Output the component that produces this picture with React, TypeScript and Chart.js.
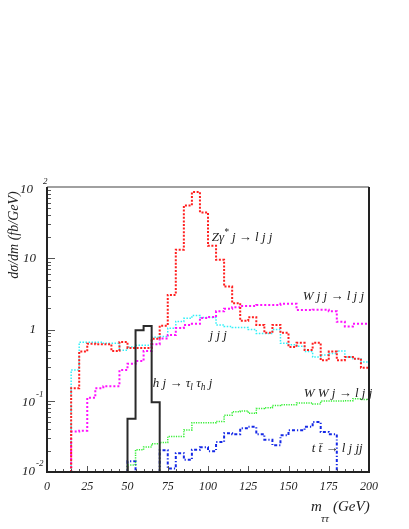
import React, { useEffect, useRef } from 'react';
import { Chart, registerables } from 'chart.js';

Chart.register(...registerables);

// ---- axis ranges / bins ----
const BIN = 5; // GeV
const X_MIN = 0;
const X_MAX = 200;
const Y_MIN = 0.01;
const Y_MAX = 100;
const FLOOR = 0.01;

// ---- tick labels ----
const X_TICK_LABELS = ['0', '25', '50', '75', '100', '125', '150', '175', '200'];
const Y_TICK_VALUES = [0.01, 0.1, 1, 10, 100];
const Y_TICK_BASE = ['10', '10', '1', '10', '10'];
const Y_TICK_EXP = ['-2', '-1', '', '', '2'];

// ---- series (dσ/dm, fb/GeV, one value per 5 GeV bin) ----
// Z/γ* j -> l j j (red)
const ZJ_START = 15;
const ZJ = [0.15, 0.49, 0.63, 0.62, 0.62, 0.5, 0.67, 0.55, 0.55, 0.55, 0.74, 1.13, 3.06, 13.2, 55, 85, 44, 15, 9.5, 4.0,
  2.34, 1.33, 1.48, 1.16, 0.9, 1.16, 0.9, 0.57, 0.65, 0.515, 0.65, 0.37, 0.49, 0.37, 0.41, 0.39, 0.29];
// j j j (cyan)
const JJJ_START = 15;
const JJJ = [0.27, 0.66, 0.66, 0.66, 0.64, 0.64, 0.51, 0.57, 0.6, 0.6, 0.78, 0.8, 1.04, 1.3, 1.44, 1.57, 1.47, 1.47, 1.16, 1.1,
  1.07, 1.07, 1.0, 0.88, 0.88, 1.0, 0.64, 0.61, 0.58, 0.49, 0.41, 0.44, 0.46, 0.5, 0.41, 0.39, 0.35];
// W j j -> l j j (magenta)
const WJJ_START = 15;
const WJJ = [0.037, 0.038, 0.11, 0.15, 0.16, 0.16, 0.27, 0.33, 0.36, 0.5, 0.62, 0.75, 0.84, 1.05, 1.16, 1.2, 1.45, 1.5, 1.8, 1.95,
  2.05, 2.14, 2.14, 2.2, 2.2, 2.2, 2.29, 2.29, 1.88, 1.88, 1.9, 1.9, 1.8, 1.28, 1.1, 1.2, 1.2];
// W W j -> l j j (green)
const WWJ_START = 50;
const WWJ = [0.0125, 0.0205, 0.0225, 0.025, 0.026, 0.0316, 0.0316, 0.039, 0.049, 0.049, 0.049, 0.051, 0.0625, 0.07, 0.072,
  0.067, 0.078, 0.08, 0.086, 0.088, 0.088, 0.093, 0.093, 0.09, 0.099, 0.099, 0.099, 0.1, 0.107, 0.104];
// t tbar -> l j jj (blue), two pieces
const TT_A_START = 50;
const TT_A = [0.0141];
const TT_B_START = 70;
const TT_B = [0.0202, 0.0112, 0.0184, 0.0148, 0.0205, 0.0223, 0.0196, 0.0263, 0.035, 0.034, 0.041, 0.043, 0.034, 0.0284,
  0.0237, 0.0327, 0.0385, 0.0385, 0.043, 0.0504, 0.0365, 0.034];
// h j -> τl τh j (black)
const HJ_START = 50;
const HJ = [0.056, 0.98, 1.12, 0.095];

type Pt = { x: number; y: number | null };

function hist(start: number, vals: number[], dropToFloor: boolean): Pt[] {
  const pts: Pt[] = [{ x: start, y: FLOOR }];
  vals.forEach((v, i) => pts.push({ x: start + i * BIN, y: v }));
  const end = start + vals.length * BIN;
  pts.push({ x: end, y: dropToFloor ? FLOOR : vals[vals.length - 1] });
  return pts;
}

const SERIF = "'Liberation Serif', 'Times New Roman', 'DejaVu Serif', serif";
const font = (s: number) => `italic ${s}px ${SERIF}`;
const TEXT = '#222';

type Part = { t: string; k?: 'sup' | 'sub' };

function drawRich(ctx: CanvasRenderingContext2D, x: number, y: number, parts: Part[], size: number) {
  let cx = x;
  ctx.textAlign = 'left';
  ctx.textBaseline = 'middle';
  for (const p of parts) {
    const s = p.k ? size * 0.72 : size;
    ctx.font = font(s);
    const dy = p.k === 'sup' ? -size * 0.42 : p.k === 'sub' ? size * 0.32 : 0;
    ctx.fillText(p.t, cx, y + dy);
    cx += ctx.measureText(p.t).width;
  }
}

// annotation anchors in data coordinates (left edge, vertical centre)
const NOTES: { x: number; y: number; parts: Part[] }[] = [
  { x: 102.3, y: 19.4, parts: [{ t: 'Zγ' }, { t: '*', k: 'sup' }, { t: ' j → l j j' }] },
  { x: 158.8, y: 2.87, parts: [{ t: 'W j j → l j j' }] },
  { x: 101, y: 0.81, parts: [{ t: 'j j j' }] },
  { x: 65.7, y: 0.177, parts: [{ t: 'h j → τ' }, { t: 'l', k: 'sub' }, { t: ' τ' }, { t: 'h', k: 'sub' }, { t: ' j' }] },
  { x: 159.4, y: 0.128, parts: [{ t: 'W W j → l j j' }] },
  { x: 164.4, y: 0.0215, parts: [{ t: 't t̄ → l j jj' }] },
];

const decor = {
  id: 'decor',
  afterDatasetsDraw(chart: any) {
    const { ctx, chartArea: a } = chart;
    const xs = chart.scales.x;
    const ys = chart.scales.y;
    ctx.save();
    // inner ticks
    ctx.strokeStyle = '#555';
    ctx.lineWidth = 1;
    ctx.beginPath();
    for (let v = X_MIN; v <= X_MAX; v += BIN) {
      const px = Math.round(xs.getPixelForValue(v)) + 0.5;
      const len = v % 25 === 0 ? 6 : 3;
      ctx.moveTo(px, a.bottom);
      ctx.lineTo(px, a.bottom - len);
    }
    for (let d = -2; d <= 2; d++) {
      for (let k = 1; k <= 9; k++) {
        const v = k * Math.pow(10, d);
        if (v > Y_MAX * 1.0001) break;
        const py = Math.round(ys.getPixelForValue(v)) + 0.5;
        const len = k === 1 ? 8 : 4;
        ctx.moveTo(a.left, py);
        ctx.lineTo(a.left + len, py);
      }
    }
    ctx.stroke();
    // frame
    ctx.lineWidth = 2;
    ctx.strokeStyle = '#a0a0a0';
    ctx.beginPath();
    ctx.moveTo(a.left, a.top);
    ctx.lineTo(a.right, a.top);
    ctx.stroke();
    ctx.strokeStyle = '#222';
    ctx.beginPath();
    ctx.moveTo(a.left, a.top);
    ctx.lineTo(a.left, a.bottom);
    ctx.lineTo(a.right, a.bottom);
    ctx.lineTo(a.right, a.top);
    ctx.stroke();
    ctx.restore();
  },
  afterDraw(chart: any) {
    const { ctx } = chart;
    const xs = chart.scales.x;
    const ys = chart.scales.y;
    ctx.save();
    ctx.fillStyle = TEXT;
    // x tick labels
    ctx.font = font(12);
    ctx.textAlign = 'center';
    ctx.textBaseline = 'middle';
    X_TICK_LABELS.forEach((l) => {
      ctx.fillText(l, xs.getPixelForValue(Number(l)), 487);
    });
    // y tick labels
    const baseRight = [35, 35, 36, 36, 33];
    const baseDy = [0, 2, 0, 0, 3];
    Y_TICK_VALUES.forEach((v, i) => {
      const py = ys.getPixelForValue(v);
      ctx.font = font(13);
      ctx.textAlign = 'right';
      ctx.textBaseline = 'middle';
      ctx.fillText(Y_TICK_BASE[i], baseRight[i], py + baseDy[i]);
      if (Y_TICK_EXP[i]) {
        ctx.font = font(9);
        ctx.textAlign = 'left';
        ctx.fillText(Y_TICK_EXP[i], i === 4 ? 43 : baseRight[i] + 1, py + baseDy[i] - 8);
      }
    });
    // y title
    ctx.save();
    ctx.translate(14, 235);
    ctx.rotate(-Math.PI / 2);
    ctx.font = font(14);
    ctx.textAlign = 'center';
    ctx.textBaseline = 'middle';
    ctx.fillText('dσ/dm (fb/GeV)', 0, 0);
    ctx.restore();
    // x title
    drawRich(ctx, 311, 507, [{ t: 'm' }], 15);
    ctx.font = font(11);
    ctx.fillText('ττ', 321, 519);
    drawRich(ctx, 333, 507, [{ t: '(GeV)' }], 15);
    // annotations
    NOTES.forEach((n) => {
      drawRich(ctx, xs.getPixelForValue(n.x), ys.getPixelForValue(n.y), n.parts, 13);
    });
    ctx.restore();
  },
};

export default function App() {
  const ref = useRef<HTMLCanvasElement>(null);
  useEffect(() => {
    const common = { pointRadius: 0, fill: false, tension: 0, stepped: 'before' as const, borderCapStyle: 'butt' as const };
    const chart = new Chart(ref.current!, {
      type: 'line',
      data: {
        datasets: [
          { label: 'hj', data: hist(HJ_START, HJ, true), borderColor: '#2a2a2a', borderWidth: 2, ...common },
          { label: 'Zj', data: hist(ZJ_START, ZJ, false), borderColor: '#ff2020', borderWidth: 2, borderDash: [2, 1.6], ...common },
          { label: 'Wjj', data: hist(WJJ_START, WJJ, false), borderColor: '#ff10ff', borderWidth: 2, borderDash: [2, 2], ...common },
          { label: 'jjj', data: hist(JJJ_START, JJJ, false), borderColor: '#30f0f8', borderWidth: 1.5, borderDash: [1.5, 1.5], ...common },
          { label: 'WWj', data: hist(WWJ_START, WWJ, false), borderColor: '#33ee33', borderWidth: 1.5, borderDash: [1.2, 1.2], ...common },
          {
            label: 'tt',
            data: [...hist(TT_A_START, TT_A, true), { x: 60, y: null }, ...hist(TT_B_START, TT_B, true)],
            borderColor: '#1428e6', borderWidth: 2, borderDash: [3, 2, 1.2, 2], spanGaps: false, ...common,
          },
        ] as any,
      },
      options: {
        animation: false,
        responsive: false,
        devicePixelRatio: 1,
        layout: { padding: { left: 47, top: 187, right: 40, bottom: 57 } },
        plugins: { legend: { display: false }, tooltip: { enabled: false } },
        events: [],
        scales: {
          x: { type: 'linear', min: X_MIN, max: X_MAX, display: false },
          y: { type: 'logarithmic', min: Y_MIN, max: Y_MAX, display: false },
        },
      },
      plugins: [decor],
    } as any);
    return () => chart.destroy();
  }, []);
  return (
    <div style={{ position: 'absolute', left: 0, top: 0, width: 409, height: 529, background: '#fff' }}>
      <canvas ref={ref} width={409} height={529} style={{ display: 'block' }} />
    </div>
  );
}
